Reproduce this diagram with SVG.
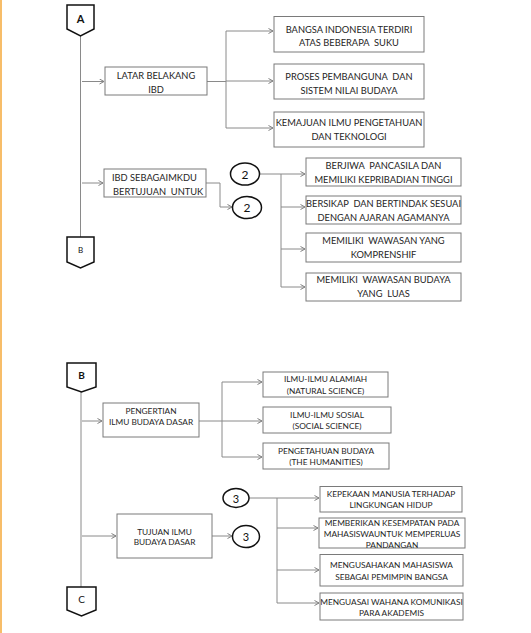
<svg xmlns="http://www.w3.org/2000/svg" width="531" height="633" viewBox="0 0 531 633" xml:space="preserve">
<defs>
<marker id="arr" markerUnits="userSpaceOnUse" markerWidth="8" markerHeight="8" refX="5" refY="3" orient="auto">
<path d="M0.5,0.5 L5,3 L0.5,5.5" fill="none" stroke="#7f7f7f" stroke-width="1"/>
</marker>
<style>
.bg{fill:#ffffff}
.edge{fill:#f7bd69}
.box{fill:#ffffff;stroke:#7a7a7a;stroke-width:1}
.pent{fill:#ffffff;stroke:#111111;stroke-width:1.5}
.circ{fill:#ffffff;stroke:#111111;stroke-width:1.5}
.ln{fill:none;stroke:#8a8a8a;stroke-width:1}
.ar{fill:none;stroke:#8a8a8a;stroke-width:1;marker-end:url(#arr)}
text{font-family:Lato,"Liberation Sans",sans-serif;fill:#262626;text-anchor:middle;dominant-baseline:central;white-space:pre}
.t1{font-size:9.3px}
.t2{font-size:8.3px}
.tp{font-size:11px;font-weight:bold;fill:#111}
.tn{font-size:12px;fill:#111}
</style>
</defs>
<rect class="bg" x="0" y="0" width="531" height="633"/>
<rect class="edge" x="0" y="0" width="2" height="633"/>

<g id="connectors">
<path class="ln" d="M80.5,36 V237"/>
<path class="ar" d="M82,81.5 H104"/>
<path class="ln" d="M207,81.5 H226 M226,31 V128"/>
<path class="ar" d="M226,31 H273"/>
<path class="ar" d="M226,81 H273"/>
<path class="ar" d="M226,128 H273"/>
<path class="ar" d="M82,183 H103"/>
<path class="ar" d="M206,183 H220 V207 H232"/>
<path class="ln" d="M260,174 H281 V287"/>
<path class="ar" d="M281,174 H305"/>
<path class="ar" d="M281,207 H305"/>
<path class="ar" d="M281,249 H305"/>
<path class="ar" d="M281,287 H305"/>
<path class="ln" d="M81,392 V587"/>
<path class="ar" d="M82,421 H102"/>
<path class="ln" d="M199,421 H222 M222,382 V457"/>
<path class="ar" d="M222,382 H262"/>
<path class="ar" d="M222,421 H262"/>
<path class="ar" d="M222,457 H262"/>
<path class="ar" d="M82,536 H116"/>
<path class="ar" d="M212,536 H232"/>
<path class="ln" d="M249,498 H277 V603"/>
<path class="ar" d="M277,498 H319"/>
<path class="ar" d="M277,528 H318"/>
<path class="ar" d="M277,570 H319"/>
<path class="ar" d="M277,603 H319"/>
</g>

<g id="nodeA"><path class="pent" d="M67,5 H94 V29 L80.5,36 L67,29 Z"/><text class="tp" x="80.5" y="18">A</text></g>
<g id="nodeB1"><path class="pent" d="M67,237 H94 V262 L80.5,268 L67,262 Z"/><text x="80.5" y="250" style="font-size:8px;fill:#111">B</text></g>

<g id="latar"><rect class="box" x="105" y="67" width="102" height="28"/><text class="t1" x="156" y="75.5">LATAR BELAKANG</text><text class="t1" x="156" y="89">IBD</text></g>
<g id="bangsa"><rect class="box" x="274" y="16.5" width="150" height="35.5"/><text class="t1" x="349" y="29">BANGSA INDONESIA TERDIRI</text><text class="t1" x="349" y="42.5">ATAS BEBERAPA  SUKU</text></g>
<g id="proses"><rect class="box" x="274" y="64" width="150" height="35"/><text class="t1" x="349" y="76.5">PROSES PEMBANGUNA  DAN</text><text class="t1" x="349" y="90">SISTEM NILAI BUDAYA</text></g>
<g id="kemajuan"><rect class="box" x="274" y="112" width="150" height="35"/><text class="t1" x="349" y="122.5">KEMAJUAN ILMU PENGETAHUAN</text><text class="t1" x="349" y="136">DAN TEKNOLOGI</text></g>

<g id="ibd"><rect class="box" x="104" y="169" width="102" height="28"/><text class="t1" x="112" y="177.5" style="text-anchor:start">IBD SEBAGAIMKDU</text><text class="t1" x="113" y="191" style="text-anchor:start">BERTUJUAN  UNTUK</text></g>
<g id="c2a"><ellipse class="circ" cx="245" cy="174" rx="14.5" ry="11"/><text class="tn" x="245" y="174">2</text></g>
<g id="c2b"><ellipse class="circ" cx="247" cy="207.5" rx="14.5" ry="11"/><text class="tn" x="247" y="207.5">2</text></g>

<g id="berjiwa"><rect class="box" x="306" y="158" width="155" height="28"/><text class="t1" x="383.5" y="165.5">BERJIWA  PANCASILA DAN</text><text class="t1" x="383.5" y="179">MEMILIKI KEPRIBADIAN TINGGI</text></g>
<g id="bersikap"><rect class="box" x="306" y="196" width="155" height="28"/><text class="t1" x="383.5" y="203.5">BERSIKAP  DAN BERTINDAK SESUAI</text><text class="t1" x="383.5" y="217">DENGAN AJARAN AGAMANYA</text></g>
<g id="wawasan"><rect class="box" x="306" y="233" width="155" height="29"/><text class="t1" x="383.5" y="240.5">MEMILIKI  WAWASAN YANG</text><text class="t1" x="383.5" y="254">KOMPRENSHIF</text></g>
<g id="wawasanbudaya"><rect class="box" x="306" y="273" width="155" height="28"/><text class="t1" x="383.5" y="279.5">MEMILIKI  WAWASAN BUDAYA</text><text class="t1" x="383.5" y="293">YANG  LUAS</text></g>

<g id="nodeB2"><path class="pent" d="M67,363 H96 V387 L81.5,392 L67,387 Z"/><text class="tp" x="81.5" y="375" style="font-size:10px">B</text></g>
<g id="nodeC"><path class="pent" d="M67,587 H96 V610 L81.5,616 L67,610 Z"/><text class="tp" x="81.5" y="599" style="font-size:10px;font-weight:normal">C</text></g>

<g id="pengertian"><rect class="box" x="103" y="403" width="96" height="34"/><text class="t2" x="151" y="411">PENGERTIAN</text><text class="t2" x="151" y="422">ILMU BUDAYA DASAR</text></g>
<g id="alamiah"><rect class="box" x="263" y="372" width="125" height="25"/><text class="t2" x="325.5" y="379">ILMU-ILMU ALAMIAH</text><text class="t2" x="325.5" y="390.5">(NATURAL SCIENCE)</text></g>
<g id="sosial"><rect class="box" x="263" y="407" width="128" height="26"/><text class="t2" x="327" y="414.5">ILMU-ILMU SOSIAL</text><text class="t2" x="327" y="425.5">(SOCIAL SCIENCE)</text></g>
<g id="budaya"><rect class="box" x="263" y="443" width="126" height="26"/><text class="t2" x="326" y="450.5">PENGETAHUAN BUDAYA</text><text class="t2" x="326" y="461.5">(THE HUMANITIES)</text></g>

<g id="tujuan"><rect class="box" x="117" y="514" width="95" height="44"/><text class="t2" x="164.5" y="531.5">TUJUAN ILMU</text><text class="t2" x="164.5" y="542">BUDAYA DASAR</text></g>
<g id="c3a"><ellipse class="circ" cx="236" cy="498" rx="13" ry="9.5"/><text class="tn" x="236" y="498" style="font-size:11px">3</text></g>
<g id="c3b"><ellipse class="circ" cx="246" cy="536.5" rx="13.5" ry="11"/><text class="tn" x="246" y="536.5" style="font-size:11px">3</text></g>

<g id="kepekaan"><rect class="box" x="320" y="486.5" width="142" height="25.5"/><text class="t2" x="391" y="493.5">KEPEKAAN MANUSIA TERHADAP</text><text class="t2" x="391" y="504.5">LINGKUNGAN HIDUP</text></g>
<g id="memberikan"><rect class="box" x="319" y="518" width="146" height="30"/><text class="t2" x="392" y="522.5">MEMBERIKAN KESEMPATAN PADA</text><text class="t2" x="392" y="533.5">MAHASISWAUNTUK MEMPERLUAS</text><text class="t2" x="392" y="544.5">PANDANGAN</text></g>
<g id="mengusahakan"><rect class="box" x="320" y="554.5" width="143" height="31.5"/><text class="t2" x="391.5" y="565">MENGUSAHAKAN MAHASISWA</text><text class="t2" x="391.5" y="576.5">SEBAGAI PEMIMPIN BANGSA</text></g>
<g id="menguasai"><rect class="box" x="320" y="593" width="143" height="27"/><text class="t2" x="391.5" y="601.5">MENGUASAI WAHANA KOMUNIKASI</text><text class="t2" x="391.5" y="613">PARA AKADEMIS</text></g>
</svg>
